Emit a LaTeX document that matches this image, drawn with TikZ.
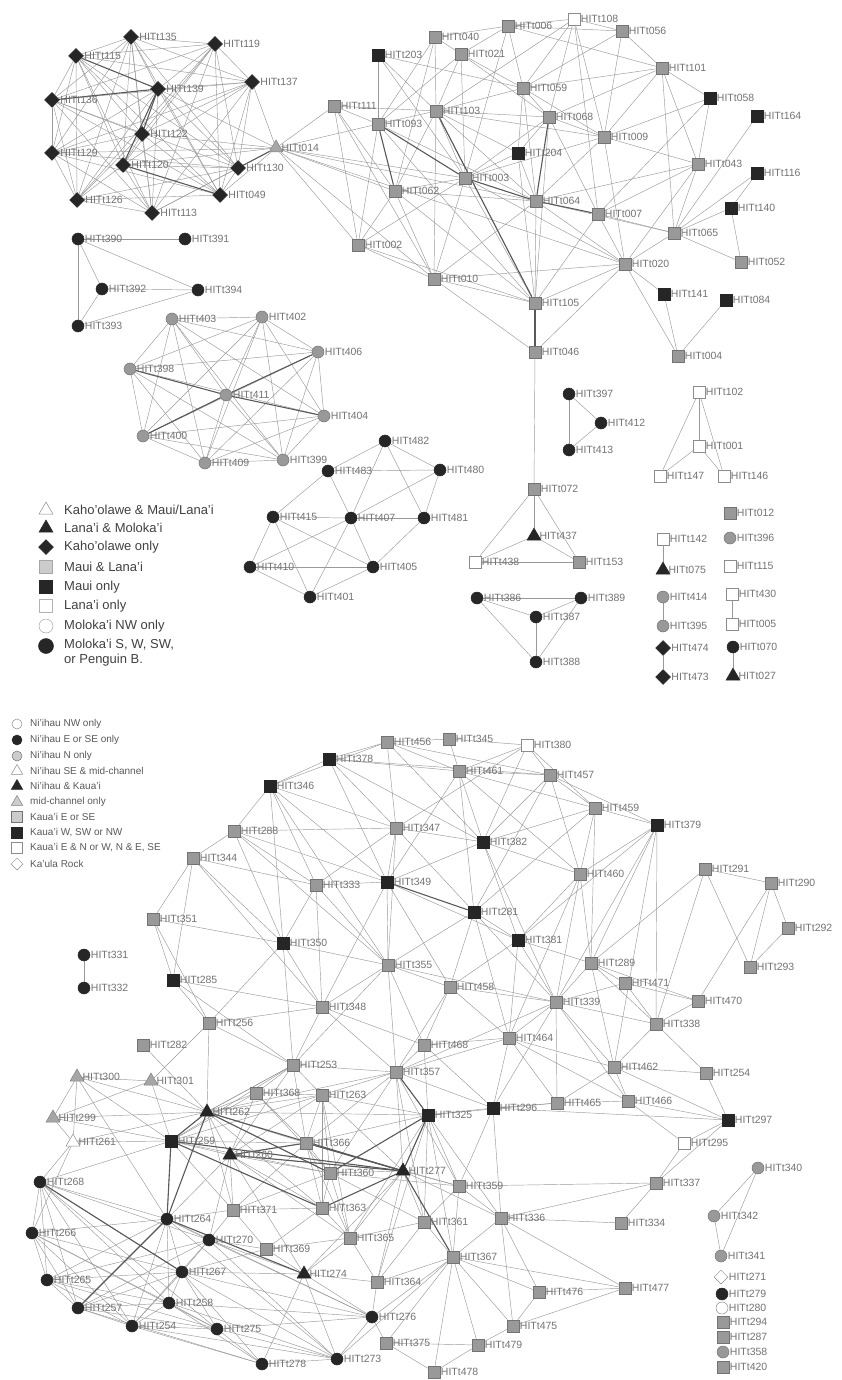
\documentclass[tikz,border=0pt]{standalone}
\usepackage{fontspec}
\setmainfont{Liberation Sans}
\usetikzlibrary{shapes.geometric,positioning,backgrounds}

\tikzset{
  lbl/.style={font=\fontsize{10.5}{11}\selectfont, text=black!55, inner sep=0.5pt},
  leg/.style={font=\fontsize{13}{15}\selectfont, text=black!75, inner sep=0pt, anchor=west, align=left},
  legb/.style={font=\fontsize{10}{11}\selectfont, text=black!65, inner sep=0pt, anchor=west},
  nd/.style={inner sep=0pt, line width=0.5pt, label distance=1.5pt, label={[lbl]right:#1}},
  gsq/.style={nd=#1, rectangle, minimum size=12pt, fill=black!40, draw=black!55},
  bsq/.style={nd=#1, rectangle, minimum size=12pt, fill=black!85, draw=black!85},
  wsq/.style={nd=#1, rectangle, minimum size=12pt, fill=white, draw=black!45},
  bci/.style={nd=#1, circle, minimum size=12pt, fill=black!85, draw=black!85},
  gci/.style={nd=#1, circle, minimum size=12pt, fill=black!40, draw=black!55},
  wci/.style={nd=#1, circle, minimum size=12pt, fill=white, draw=black!45},
  dia/.style={nd=#1, diamond, minimum size=15pt, fill=black!85, draw=black!85},
  wdi/.style={nd=#1, diamond, minimum size=14pt, fill=white, draw=black!45},
  btr/.style={nd=#1, regular polygon, regular polygon sides=3, minimum size=16pt, fill=black!85, draw=black!85},
  gtr/.style={nd=#1, regular polygon, regular polygon sides=3, minimum size=16pt, fill=black!35, draw=black!50},
  wtr/.style={nd=#1, regular polygon, regular polygon sides=3, minimum size=16pt, fill=white, draw=black!45},
  gsq/.default={}, bsq/.default={}, wsq/.default={}, bci/.default={}, gci/.default={},
  wci/.default={}, dia/.default={}, wdi/.default={}, btr/.default={}, gtr/.default={}, wtr/.default={},
  ln/.style={draw=black!40, line width=0.45pt},
  hv/.style={draw=black!65, line width=1.1pt}
}

\begin{document}
\begin{tikzpicture}[x=1pt, y=-1pt]
  \useasboundingbox (0,0) rectangle (842,1380);

  % Kaho'olawe group
  \node [dia=HITt135] (a135) at (131,37) {};
  \node [dia=HITt119] (a119) at (215,44) {};
  \node [dia=HITt115] (a115) at (76,56) {};
  \node [dia=HITt137] (a137) at (252,82) {};
  \node [dia=HITt139] (a139) at (158,89) {};
  \node [dia=HITt136] (a136) at (52,100) {};
  \node [dia=HITt122] (a122) at (142,134) {};
  \node [dia=HITt129] (a129) at (52,153) {};
  \node [dia=HITt120] (a120) at (123,165) {};
  \node [dia=HITt130] (a130) at (238,168) {};
  \node [dia=HITt126] (a126) at (77,200) {};
  \node [dia=HITt049] (a049) at (220,195) {};
  \node [dia=HITt113] (a113) at (152,213) {};
  \node [gtr=HITt014] (a014) at (276,148) {};

  % Maui / Lana'i group
  \node [bsq=HITt203] (a203) at (378,55) {};
  \node [gsq=HITt040] (a040) at (435,37) {};
  \node [gsq=HITt006] (a006) at (508,26) {};
  \node [wsq=HITt108] (a108) at (574,19) {};
  \node [gsq=HITt056] (a056) at (622,31) {};
  \node [gsq=HITt021] (a021) at (461,54) {};
  \node [gsq=HITt101] (a101) at (662,68) {};
  \node [gsq=HITt059] (a059) at (523,88) {};
  \node [gsq=HITt111] (a111) at (334,106) {};
  \node [gsq=HITt093] (a093) at (378,124) {};
  \node [gsq=HITt103] (a103) at (436,111) {};
  \node [bsq=HITt058] (a058) at (710,98) {};
  \node [gsq=HITt068] (a068) at (549,117) {};
  \node [bsq=HITt164] (a164) at (757,116) {};
  \node [gsq=HITt009] (a009) at (604,137) {};
  \node [bsq=HITt204] (a204) at (518,153) {};
  \node [gsq=HITt043] (a043) at (698,164) {};
  \node [bsq=HITt116] (a116) at (757,173) {};
  \node [gsq=HITt003] (a003) at (465,178) {};
  \node [gsq=HITt062] (a062) at (395,191) {};
  \node [gsq=HITt064] (a064) at (536,201) {};
  \node [gsq=HITt007] (a007) at (598,214) {};
  \node [bsq=HITt140] (a140) at (731,208) {};
  \node [gsq=HITt065] (a065) at (674,233) {};
  \node [gsq=HITt002] (a002) at (358,245) {};
  \node [gsq=HITt052] (a052) at (741,262) {};
  \node [gsq=HITt020] (a020) at (625,264) {};
  \node [gsq=HITt010] (a010) at (434,279) {};
  \node [gsq=HITt105] (a105) at (535,303) {};
  \node [bsq=HITt141] (a141) at (664,294) {};
  \node [bsq=HITt084] (a084) at (726,300) {};
  \node [gsq=HITt046] (a046) at (535,352) {};
  \node [gsq=HITt004] (a004) at (678,356) {};

  % Moloka'i groups
  \node [bci=HITt390] (a390) at (78,239) {};
  \node [bci=HITt391] (a391) at (185,239) {};
  \node [bci=HITt392] (a392) at (102,289) {};
  \node [bci=HITt394] (a394) at (198,290) {};
  \node [bci=HITt393] (a393) at (78,326) {};

  \node [gci=HITt403] (a403) at (172,319) {};
  \node [gci=HITt402] (a402) at (262,317) {};
  \node [gci=HITt406] (a406) at (318,352) {};
  \node [gci=HITt398] (a398) at (130,369) {};
  \node [gci=HITt411] (a411) at (226,395) {};
  \node [gci=HITt404] (a404) at (324,416) {};
  \node [gci=HITt400] (a400) at (143,436) {};
  \node [gci=HITt409] (a409) at (205,463) {};
  \node [gci=HITt399] (a399) at (283,460) {};

  \node [bci=HITt482] (a482) at (385,441) {};
  \node [bci=HITt483] (a483) at (328,471) {};
  \node [bci=HITt480] (a480) at (440,470) {};
  \node [bci=HITt415] (a415) at (273,517) {};
  \node [bci=HITt407] (a407) at (351,518) {};
  \node [bci=HITt481] (a481) at (424,518) {};
  \node [bci=HITt410] (a410) at (250,567) {};
  \node [bci=HITt405] (a405) at (373,567) {};
  \node [bci=HITt401] (a401) at (310,597) {};

  \node [bci=HITt397] (a397) at (569,394) {};
  \node [bci=HITt412] (a412) at (601,423) {};
  \node [bci=HITt413] (a413) at (569,450) {};
  \node [wsq=HITt102] (a102) at (699,392) {};
  \node [wsq=HITt001] (a001) at (699,446) {};
  \node [wsq=HITt147] (a147) at (660,476) {};
  \node [wsq=HITt146] (a146) at (724,476) {};

  \node [gsq=HITt072] (a072) at (534,489) {};
  \node [btr=HITt437] (a437) at (534,536) {};
  \node [wsq=HITt438] (a438) at (475,562) {};
  \node [gsq=HITt153] (a153) at (579,562) {};
  \node [bci=HITt386] (a386) at (477,598) {};
  \node [bci=HITt389] (a389) at (581,598) {};
  \node [bci=HITt387] (a387) at (536,617) {};
  \node [bci=HITt388] (a388) at (536,662) {};

  \node [gsq=HITt012] (a012) at (730,513) {};
  \node [wsq=HITt142] (a142) at (663,539) {};
  \node [gci=HITt396] (a396) at (730,538) {};
  \node [btr=HITt075] (a075) at (663,570) {};
  \node [wsq=HITt115] (a115w) at (730,566) {};
  \node [gci=HITt414] (a414) at (663,597) {};
  \node [wsq=HITt430] (a430) at (732,594) {};
  \node [gci=HITt395] (a395) at (663,626) {};
  \node [wsq=HITt005] (a005) at (732,624) {};
  \node [dia=HITt474] (a474) at (663,648) {};
  \node [bci=HITt070] (a070) at (733,647) {};
  \node [dia=HITt473] (a473) at (663,677) {};
  \node [btr=HITt027] (a027) at (733,676) {};

  % legend, upper
  \node [wtr] (k1) at (46,510) {};
  \node [btr] (k2) at (46,528) {};
  \node [dia] (k3) at (46,547) {};
  \node [gsq, fill=black!20, draw=black!35, minimum size=13pt] (k4) at (46,567) {};
  \node [bsq, minimum size=13pt] (k5) at (46,587) {};
  \node [wsq, draw=black!30, minimum size=13pt] (k6) at (46,606) {};
  \node [wci, draw=black!35, minimum width=14pt, minimum height=11pt] (k7) at (46,626) {};
  \node [bci, minimum size=15pt] (k8) at (46,646) {};
  \node [leg] at (64,510) {Kaho'olawe \& Maui/Lana'i};
  \node [leg] at (64,528) {Lana'i \& Moloka'i};
  \node [leg] at (64,547) {Kaho'olawe only};
  \node [leg] at (64,567) {Maui \& Lana'i};
  \node [leg] at (64,587) {Maui only};
  \node [leg] at (64,606) {Lana'i only};
  \node [leg] at (64,626) {Moloka'i NW only};
  \node [leg, anchor=north west] at (64,639) {Moloka'i S, W, SW,\\or Penguin B.};

  % legend, lower
  \node [wci, minimum size=10pt] (m1) at (17,724) {};
  \node [bci, minimum size=10pt] (m2) at (17,740) {};
  \node [gci, fill=black!20, minimum size=10pt] (m3) at (17,756) {};
  \node [wtr, minimum size=13pt] (m4) at (17,771) {};
  \node [btr, minimum size=13pt] (m5) at (17,786) {};
  \node [gtr, fill=black!20, minimum size=13pt] (m6) at (17,802) {};
  \node [gsq, fill=black!20, minimum size=11pt] (m7) at (17,817) {};
  \node [bsq, minimum size=11pt] (m8) at (17,833) {};
  \node [wsq, minimum size=11pt] (m9) at (17,848) {};
  \node [wdi, minimum size=12pt] (m10) at (17,864) {};
  \node [legb] at (30,724) {Ni'ihau NW only};
  \node [legb] at (30,740) {Ni'ihau E or SE only};
  \node [legb] at (30,756) {Ni'ihau N only};
  \node [legb] at (30,771) {Ni'ihau SE \& mid-channel};
  \node [legb] at (30,786) {Ni'ihau \& Kaua'i};
  \node [legb] at (30,802) {mid-channel only};
  \node [legb] at (30,817) {Kaua'i E or SE};
  \node [legb] at (30,833) {Kaua'i W, SW or NW};
  \node [legb] at (30,848) {Kaua'i E \& N or W, N \& E, SE};
  \node [legb] at (30,864) {Ka'ula Rock};

  % Kaua'i / Ni'ihau network
  \node [gsq=HITt456] (b456) at (387,742) {};
  \node [gsq=HITt345] (b345) at (449,739) {};
  \node [wsq=HITt380] (b380) at (527,745) {};
  \node [bsq=HITt378] (b378) at (329,759) {};
  \node [gsq=HITt461] (b461) at (459,771) {};
  \node [gsq=HITt457] (b457) at (550,775) {};
  \node [bsq=HITt346] (b346) at (270,786) {};
  \node [gsq=HITt459] (b459) at (595,808) {};
  \node [bsq=HITt379] (b379) at (657,825) {};
  \node [gsq=HITt288] (b288) at (234,831) {};
  \node [gsq=HITt347] (b347) at (396,828) {};
  \node [bsq=HITt382] (b382) at (483,842) {};
  \node [gsq=HITt344] (b344) at (193,858) {};
  \node [gsq=HITt460] (b460) at (580,874) {};
  \node [gsq=HITt291] (b291) at (705,869) {};
  \node [gsq=HITt290] (b290) at (771,883) {};
  \node [gsq=HITt333] (b333) at (316,885) {};
  \node [bsq=HITt349] (b349) at (387,882) {};
  \node [bsq=HITt281] (b281) at (474,912) {};
  \node [gsq=HITt351] (b351) at (153,919) {};
  \node [gsq=HITt292] (b292) at (788,928) {};
  \node [bsq=HITt381] (b381) at (518,940) {};
  \node [bsq=HITt350] (b350) at (283,943) {};
  \node [gsq=HITt355] (b355) at (388,965) {};
  \node [gsq=HITt289] (b289) at (591,963) {};
  \node [gsq=HITt293] (b293) at (750,967) {};
  \node [bci=HITt331] (b331) at (84,955) {};
  \node [bci=HITt332] (b332) at (84,988) {};
  \node [bsq=HITt285] (b285) at (173,980) {};
  \node [gsq=HITt471] (b471) at (625,983) {};
  \node [gsq=HITt458] (b458) at (450,987) {};
  \node [gsq=HITt470] (b470) at (698,1001) {};
  \node [gsq=HITt339] (b339) at (556,1002) {};
  \node [gsq=HITt348] (b348) at (322,1007) {};
  \node [gsq=HITt256] (b256) at (209,1023) {};
  \node [gsq=HITt338] (b338) at (656,1024) {};
  \node [gsq=HITt464] (b464) at (509,1038) {};
  \node [gsq=HITt468] (b468) at (424,1045) {};
  \node [gsq=HITt282] (b282) at (143,1045) {};
  \node [gsq=HITt253] (b253) at (293,1065) {};
  \node [gsq=HITt357] (b357) at (396,1072) {};
  \node [gsq=HITt462] (b462) at (614,1067) {};
  \node [gsq=HITt254] (b254g) at (706,1073) {};
  \node [gtr=HITt300] (b300) at (77,1077) {};
  \node [gtr=HITt301] (b301) at (151,1081) {};
  \node [gsq=HITt368] (b368) at (256,1093) {};
  \node [gsq=HITt263] (b263) at (322,1095) {};
  \node [gsq=HITt466] (b466) at (628,1101) {};
  \node [gsq=HITt465] (b465) at (557,1103) {};
  \node [bsq=HITt296] (b296) at (493,1108) {};
  \node [bsq=HITt325] (b325) at (428,1115) {};
  \node [btr=HITt262] (b262) at (207,1112) {};
  \node [gtr=HITt299] (b299) at (53,1118) {};
  \node [bsq=HITt297] (b297) at (728,1120) {};
  \node [wtr=HITt261] (b261) at (73,1142) {};
  \node [bsq=HITt259] (b259) at (171,1141) {};
  \node [gsq=HITt366] (b366) at (306,1143) {};
  \node [wsq=HITt295] (b295) at (684,1143) {};
  \node [btr=HITt260] (b260) at (230,1155) {};
  \node [btr=HITt277] (b277) at (403,1171) {};
  \node [gsq=HITt360] (b360) at (330,1173) {};
  \node [bci=HITt268] (b268) at (40,1182) {};
  \node [gsq=HITt359] (b359) at (459,1186) {};
  \node [gsq=HITt337] (b337) at (656,1183) {};
  \node [gsq=HITt363] (b363) at (322,1208) {};
  \node [gsq=HITt371] (b371) at (233,1210) {};
  \node [gsq=HITt336] (b336) at (501,1218) {};
  \node [gsq=HITt334] (b334) at (621,1223) {};
  \node [gsq=HITt361] (b361) at (424,1222) {};
  \node [bci=HITt264] (b264) at (167,1219) {};
  \node [bci=HITt266] (b266) at (32,1233) {};
  \node [bci=HITt270] (b270) at (209,1240) {};
  \node [gsq=HITt365] (b365) at (350,1238) {};
  \node [gsq=HITt369] (b369) at (266,1249) {};
  \node [gsq=HITt367] (b367) at (453,1257) {};
  \node [bci=HITt267] (b267) at (182,1272) {};
  \node [btr=HITt274] (b274) at (304,1274) {};
  \node [gsq=HITt364] (b364) at (377,1282) {};
  \node [bci=HITt265] (b265) at (47,1280) {};
  \node [gsq=HITt476] (b476) at (539,1292) {};
  \node [gsq=HITt477] (b477) at (625,1288) {};
  \node [bci=HITt258] (b258) at (169,1303) {};
  \node [bci=HITt257] (b257) at (78,1308) {};
  \node [bci=HITt276] (b276) at (372,1317) {};
  \node [gsq=HITt475] (b475) at (513,1326) {};
  \node [bci=HITt254] (b254) at (132,1326) {};
  \node [bci=HITt275] (b275) at (217,1329) {};
  \node [gsq=HITt375] (b375) at (386,1343) {};
  \node [gsq=HITt479] (b479) at (478,1345) {};
  \node [bci=HITt278] (b278) at (262,1364) {};
  \node [bci=HITt273] (b273) at (337,1359) {};
  \node [gsq=HITt478] (b478) at (434,1372) {};

  \node [gci=HITt340] (b340) at (758,1168) {};
  \node [gci=HITt342] (b342) at (714,1216) {};
  \node [gci=HITt341] (b341) at (721,1256) {};
  \node [wdi=HITt271] (b271) at (721,1277) {};
  \node [bci=HITt279] (b279) at (722,1294) {};
  \node [wci=HITt280] (b280) at (722,1308) {};
  \node [gsq=HITt294] (b294) at (723,1322) {};
  \node [gsq=HITt287] (b287) at (723,1337) {};
  \node [gci=HITt358] (b358) at (723,1352) {};
  \node [gsq=HITt420] (b420) at (723,1367) {};

  \begin{scope}[on background layer]
    % upper network
    \path [ln] (a135) edge (a119) edge (a115) edge (a137) edge (a139) edge (a136) edge (a122) edge (a129) edge (a120) edge (a130) edge (a126) edge (a049) edge (a113);
    \path [ln] (a119) edge (a115) edge (a137) edge (a139) edge (a136) edge (a122) edge (a120) edge (a130) edge (a049) edge (a113) edge (a126);
    \path [ln] (a115) edge (a137) edge (a136) edge (a122) edge (a129) edge (a120) edge (a130) edge (a126) edge (a049) edge (a113);
    \path [ln] (a137) edge (a139) edge (a136) edge (a122) edge (a129) edge (a120) edge (a130) edge (a049) edge (a113) edge (a014);
    \path [ln] (a139) edge (a129) edge (a130) edge (a126) edge (a049) edge (a113) edge (a014);
    \path [ln] (a136) edge (a122) edge (a129) edge (a130) edge (a126) edge (a049) edge (a113);
    \path [ln] (a122) edge (a129) edge (a120) edge (a126) edge (a049) edge (a113) edge (a014);
    \path [ln] (a129) edge (a130) edge (a126) edge (a049) edge (a113) edge (a014);
    \path [ln] (a120) edge (a130) edge (a126) edge (a113) edge (a014);
    \path [ln] (a130) edge (a126) edge (a049) edge (a113);
    \path [ln] (a126) edge (a049) edge (a113);
    \path [ln] (a049) edge (a014);
    \path [ln] (a113) edge (a014);
    \path [hv] (a139) edge (a136) edge (a120) edge (a122) edge (a115);
    \path [hv] (a120) edge (a049);
    \path [hv] (a130) edge (a014);
    \path [ln] (a014) edge (a111) edge (a093) edge (a062) edge (a002) edge (a003) edge (a010) edge (a064) edge (a020);

    \path [ln] (a203) edge (a093) edge (a103) edge (a059) edge (a003);
    \path [ln] (a040) edge (a093) edge (a103) edge (a006) edge (a021) edge (a062);
    \path [ln] (a006) edge (a021) edge (a059) edge (a108) edge (a056) edge (a101) edge (a003);
    \path [ln] (a108) edge (a056) edge (a059) edge (a068) edge (a009) edge (a007) edge (a103);
    \path [ln] (a056) edge (a101) edge (a009) edge (a059);
    \path [ln] (a021) edge (a093) edge (a103) edge (a059) edge (a068) edge (a003);
    \path [ln] (a101) edge (a058) edge (a043) edge (a009) edge (a068) edge (a059) edge (a065);
    \path [ln] (a059) edge (a103) edge (a068) edge (a204) edge (a009) edge (a064);
    \path [ln] (a111) edge (a093) edge (a103) edge (a062) edge (a002) edge (a010);
    \path [ln] (a093) edge (a103) edge (a002) edge (a064) edge (a105);
    \path [ln] (a103) edge (a068) edge (a003) edge (a062) edge (a064) edge (a204) edge (a010) edge (a105) edge (a009);
    \path [ln] (a058) edge (a009) edge (a043) edge (a007);
    \path [ln] (a068) edge (a009) edge (a204) edge (a003) edge (a105) edge (a007);
    \path [ln] (a164) edge (a065);
    \path [ln] (a009) edge (a043) edge (a064) edge (a020) edge (a003);
    \path [ln] (a204) edge (a003) edge (a064) edge (a105);
    \path [ln] (a043) edge (a007) edge (a065) edge (a020) edge (a064);
    \path [ln] (a116) edge (a065) edge (a140);
    \path [ln] (a003) edge (a062) edge (a002) edge (a010) edge (a105) edge (a020);
    \path [ln] (a062) edge (a002) edge (a010) edge (a064) edge (a105);
    \path [ln] (a064) edge (a105) edge (a065) edge (a020) edge (a010);
    \path [ln] (a007) edge (a065) edge (a020) edge (a105);
    \path [ln] (a140) edge (a065) edge (a052);
    \path [ln] (a065) edge (a020) edge (a052);
    \path [ln] (a002) edge (a010) edge (a105);
    \path [ln] (a020) edge (a105) edge (a010) edge (a141) edge (a004) edge (a046);
    \path [ln] (a010) edge (a105) edge (a046);
    \path [ln] (a141) edge (a004);
    \path [ln] (a084) edge (a004);
    \path [hv] (a093) edge (a062) edge (a003);
    \path [hv] (a064) edge (a007);
    \path [hv] (a003) edge (a064);
    \path [hv] (a068) edge (a064);
    \path [hv] (a105) edge (a046) edge (a103);
    \path [ln] (a046) edge (a072);

    \path [ln] (a390) edge (a391) edge (a392) edge (a393) edge (a394);
    \path [ln] (a392) edge (a393) edge (a394);
    \path [ln] (a393) edge (a394);

    \path [ln] (a403) edge (a402) edge (a406) edge (a398) edge (a411) edge (a404) edge (a400) edge (a409) edge (a399);
    \path [ln] (a402) edge (a406) edge (a398) edge (a411) edge (a404) edge (a400) edge (a409) edge (a399);
    \path [ln] (a406) edge (a398) edge (a404) edge (a400) edge (a409) edge (a399);
    \path [ln] (a398) edge (a404) edge (a400) edge (a409) edge (a399);
    \path [ln] (a411) edge (a400) edge (a409) edge (a399);
    \path [ln] (a404) edge (a400) edge (a409) edge (a399);
    \path [ln] (a400) edge (a409) edge (a399);
    \path [ln] (a409) edge (a399);
    \path [hv] (a411) edge (a398) edge (a406) edge (a404) edge (a400);

    \path [ln] (a482) edge (a480) edge (a407) edge (a481) edge (a483);
    \path [ln] (a483) edge (a480) edge (a407) edge (a415);
    \path [ln] (a480) edge (a407) edge (a481);
    \path [ln] (a415) edge (a407) edge (a410) edge (a405) edge (a401);
    \path [ln] (a407) edge (a481) edge (a410) edge (a401) edge (a405);
    \path [ln] (a410) edge (a405) edge (a401);
    \path [ln] (a405) edge (a401) edge (a481);

    \path [ln] (a397) edge (a412) edge (a413);
    \path [ln] (a412) edge (a413);
    \path [ln] (a102) edge (a001) edge (a147) edge (a146);
    \path [ln] (a001) edge (a147) edge (a146);
    \path [ln] (a072) edge (a437) edge (a438) edge (a153);
    \path [ln] (a437) edge (a438) edge (a153);
    \path [ln] (a438) edge (a153);
    \path [ln] (a386) edge (a389) edge (a387) edge (a388);
    \path [ln] (a387) edge (a388) edge (a389);
    \path [ln] (a389) edge (a388);
    \path [ln] (a142) edge (a075);
    \path [ln] (a414) edge (a395);
    \path [ln] (a430) edge (a005);
    \path [ln] (a474) edge (a473);
    \path [ln] (a070) edge (a027);

    % lower network
    \path [ln] (b456) edge (b378) edge (b345) edge (b461) edge (b347) edge (b382) edge (b457) edge (b346);
    \path [ln] (b345) edge (b380) edge (b461);
    \path [ln] (b380) edge (b461) edge (b457) edge (b459) edge (b382) edge (b347);
    \path [ln] (b378) edge (b346) edge (b461) edge (b347) edge (b349) edge (b382) edge (b457);
    \path [ln] (b461) edge (b457) edge (b382) edge (b349) edge (b459) edge (b281) edge (b460);
    \path [ln] (b457) edge (b459) edge (b379) edge (b382) edge (b460) edge (b281);
    \path [ln] (b346) edge (b288) edge (b349) edge (b347) edge (b333) edge (b350) edge (b355);
    \path [ln] (b459) edge (b379) edge (b460) edge (b382) edge (b281) edge (b289);
    \path [ln] (b379) edge (b289) edge (b339) edge (b338) edge (b460) edge (b381) edge (b462);
    \path [ln] (b288) edge (b344) edge (b349) edge (b347) edge (b333) edge (b350) edge (b355);
    \path [ln] (b347) edge (b349) edge (b382) edge (b333) edge (b355) edge (b281);
    \path [ln] (b382) edge (b381) edge (b460) edge (b349) edge (b339);
    \path [ln] (b344) edge (b351) edge (b333) edge (b350) edge (b285) edge (b348);
    \path [ln] (b460) edge (b289) edge (b381) edge (b339) edge (b464);
    \path [ln] (b291) edge (b290) edge (b289) edge (b293) edge (b338);
    \path [ln] (b290) edge (b293) edge (b292) edge (b470);
    \path [ln] (b333) edge (b349) edge (b350) edge (b355) edge (b348);
    \path [ln] (b349) edge (b355) edge (b348) edge (b458) edge (b381);
    \path [ln] (b281) edge (b381) edge (b458) edge (b355) edge (b464) edge (b339);
    \path [ln] (b351) edge (b285) edge (b350) edge (b256);
    \path [ln] (b292) edge (b293);
    \path [ln] (b381) edge (b289) edge (b339) edge (b458) edge (b464);
    \path [ln] (b350) edge (b355) edge (b348) edge (b253) edge (b256);
    \path [ln] (b355) edge (b348) edge (b458) edge (b468) edge (b253) edge (b357) edge (b339);
    \path [ln] (b289) edge (b471) edge (b339) edge (b338) edge (b470) edge (b462);
    \path [ln] (b285) edge (b256) edge (b348) edge (b253);
    \path [ln] (b471) edge (b470) edge (b338) edge (b339);
    \path [ln] (b458) edge (b339) edge (b464) edge (b468) edge (b357);
    \path [ln] (b470) edge (b338);
    \path [ln] (b339) edge (b464) edge (b338) edge (b462) edge (b465) edge (b466) edge (b357) edge (b296);
    \path [ln] (b348) edge (b253) edge (b357) edge (b468) edge (b256);
    \path [ln] (b256) edge (b253) edge (b262);
    \path [ln] (b338) edge (b462) edge (b254g);
    \path [ln] (b464) edge (b462) edge (b468) edge (b465) edge (b466) edge (b296) edge (b357);
    \path [ln] (b468) edge (b357) edge (b325) edge (b296);
    \path [ln] (b282) edge (b262);
    \path [ln] (b253) edge (b357) edge (b368) edge (b263) edge (b262) edge (b366) edge (b260) edge (b259);
    \path [ln] (b357) edge (b325) edge (b263) edge (b296) edge (b359) edge (b360) edge (b366) edge (b277) edge (b361);
    \path [ln] (b462) edge (b466) edge (b254g) edge (b465) edge (b297);
    \path [ln] (b254g) edge (b297);
    \path [ln] (b300) edge (b301) edge (b299) edge (b262) edge (b261) edge (b259) edge (b264);
    \path [ln] (b301) edge (b262) edge (b299) edge (b259) edge (b256);
    \path [ln] (b466) edge (b297) edge (b295) edge (b465);
    \path [ln] (b465) edge (b296) edge (b325);
    \path [ln] (b296) edge (b325) edge (b297) edge (b359) edge (b336);
    \path [ln] (b325) edge (b263) edge (b359) edge (b277) edge (b367) edge (b361) edge (b365) edge (b364) edge (b336);
    \path [ln] (b262) edge (b259) edge (b260) edge (b299) edge (b261) edge (b366) edge (b263) edge (b368) edge (b360) edge (b363) edge (b371) edge (b253) edge (b357) edge (b325);
    \path [ln] (b299) edge (b261) edge (b259);
    \path [ln] (b297) edge (b295) edge (b337);
    \path [ln] (b261) edge (b259) edge (b268) edge (b266);
    \path [ln] (b259) edge (b260) edge (b264) edge (b268) edge (b371) edge (b366) edge (b360) edge (b263) edge (b368);
    \path [ln] (b366) edge (b263) edge (b360) edge (b363) edge (b277) edge (b371) edge (b365) edge (b359) edge (b325);
    \path [ln] (b295) edge (b337);
    \path [ln] (b260) edge (b264) edge (b371) edge (b270) edge (b360) edge (b274) edge (b366) edge (b263) edge (b363) edge (b365) edge (b277);
    \path [ln] (b263) edge (b360) edge (b363) edge (b277) edge (b365);
    \path [ln] (b368) edge (b263) edge (b366) edge (b260) edge (b360);
    \path [ln] (b277) edge (b360) edge (b359) edge (b361) edge (b367) edge (b365) edge (b274) edge (b336) edge (b364);
    \path [ln] (b360) edge (b363) edge (b371) edge (b365) edge (b359) edge (b361);
    \path [ln] (b268) edge (b266) edge (b264) edge (b265) edge (b257) edge (b254) edge (b267) edge (b270) edge (b258) edge (b275);
    \path [ln] (b359) edge (b361) edge (b367) edge (b336) edge (b337);
    \path [ln] (b337) edge (b334) edge (b336);
    \path [ln] (b363) edge (b371) edge (b365) edge (b369);
    \path [ln] (b371) edge (b264) edge (b270) edge (b369);
    \path [ln] (b336) edge (b334) edge (b367) edge (b476) edge (b475) edge (b477);
    \path [ln] (b361) edge (b367) edge (b364) edge (b365);
    \path [ln] (b264) edge (b266) edge (b265) edge (b267) edge (b257) edge (b254) edge (b270) edge (b258) edge (b276) edge (b273);
    \path [ln] (b266) edge (b265) edge (b257) edge (b267) edge (b258) edge (b254) edge (b275);
    \path [ln] (b270) edge (b369) edge (b267) edge (b274) edge (b276) edge (b265) edge (b257) edge (b254) edge (b273);
    \path [ln] (b365) edge (b364) edge (b274) edge (b369);
    \path [ln] (b369) edge (b274) edge (b267);
    \path [ln] (b367) edge (b476) edge (b477) edge (b475) edge (b479) edge (b478) edge (b364) edge (b276) edge (b273) edge (b375);
    \path [ln] (b267) edge (b258) edge (b274) edge (b265) edge (b257) edge (b254) edge (b275) edge (b278) edge (b273) edge (b276);
    \path [ln] (b274) edge (b276) edge (b364) edge (b273) edge (b278);
    \path [ln] (b364) edge (b276);
    \path [ln] (b265) edge (b257) edge (b258) edge (b275) edge (b254);
    \path [ln] (b476) edge (b477) edge (b475);
    \path [ln] (b477) edge (b475);
    \path [ln] (b258) edge (b275) edge (b254) edge (b257) edge (b278) edge (b276) edge (b273);
    \path [ln] (b257) edge (b254) edge (b275) edge (b278);
    \path [ln] (b276) edge (b273) edge (b375) edge (b275);
    \path [ln] (b475) edge (b479);
    \path [ln] (b254) edge (b275) edge (b278) edge (b273);
    \path [ln] (b275) edge (b278) edge (b273);
    \path [ln] (b375) edge (b478) edge (b479);
    \path [ln] (b479) edge (b478);
    \path [ln] (b278) edge (b273);
    \path [hv] (b262) edge (b264) edge (b277) edge (b259) edge (b360);
    \path [hv] (b259) edge (b277) edge (b363) edge (b264);
    \path [hv] (b349) edge (b281);
    \path [hv] (b277) edge (b367) edge (b363) edge (b366);
    \path [hv] (b264) edge (b274) edge (b257);
    \path [hv] (b325) edge (b357) edge (b360) edge (b277);
    \path [hv] (b260) edge (b366) edge (b277);
    \path [hv] (b268) edge (b267);
    \path [ln] (b331) edge (b332);
    \path [ln] (b340) edge (b342) edge (b341);
    \path [ln] (b342) edge (b341);
  \end{scope}
\end{tikzpicture}
\end{document}
